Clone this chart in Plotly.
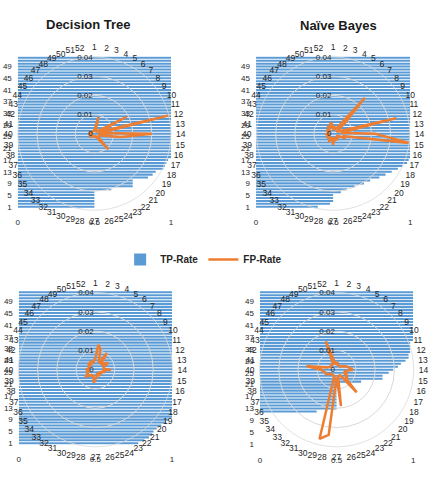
import plotly.graph_objects as go

# ---------------- data ----------------
cats = list(range(1, 53))
cat_labels = [str(c) for c in cats]
y_tick_vals = [1, 5, 9, 13, 17, 21, 25, 29, 33, 37, 41, 45, 49]
x_tick_vals = [0, 0.5, 1]
x_tick_text = ["0", "0.5", "1"]
radial_tick_vals = [0, 0.01, 0.02, 0.03, 0.04]
radial_tick_text = ["0", "0.01", "0.02", "0.03", "0.04"]
panel_titles = ["Decision Tree", "Naïve Bayes", "", ""]

# TP-Rate (bars), categories 1..52 (bottom to top)
tp_dt = [0.5, 0.5, 0.5, 0.5, 0.5, 0.5, 0.61, 0.75, 0.75, 0.75, 0.85, 0.88, 0.9, 0.95, 0.96, 0.97,
         0.98] + [1.0] * 35
tp_nb = [0.4, 0.48, 0.5, 0.5, 0.5, 0.55, 0.59, 0.64, 0.7, 0.74, 0.8, 0.84, 0.88, 0.92, 0.95, 0.98,
         0.99] + [1.0] * 35
tp_p3 = [0.78, 0.82, 0.85, 0.87, 0.88, 0.9, 0.93, 0.96, 0.98] + [1.0] * 43
tp_p4 = [0.0] * 11 + [0.37] + [0.5] * 9 + [0.66, 0.8, 0.8, 0.84, 0.87, 0.9, 0.92, 0.95, 0.97,
                                           0.97, 0.98, 0.98, 0.98, 0.98] + [1.0] * 17

# FP-Rate (radar), categories 1..52 clockwise from top
fp_dt = [0.002, 0.003, 0.009, 0.002, 0.001, 0.002, 0.001, 0.002, 0.003, 0.019,
         0.002, 0.040, 0.003, 0.030, 0.014, 0.004, 0.002, 0.003, 0.002, 0.003,
         0.011, 0.003, 0.002, 0.001, 0.002, 0.001, 0.002, 0.001, 0.002, 0.001,
         0.002, 0.001, 0.002, 0.003, 0.002, 0.003, 0.002, 0.003, 0.002, 0.003,
         0.002, 0.001, 0.002, 0.001, 0.002, 0.001, 0.002, 0.001, 0.002, 0.001,
         0.002, 0.001]
fp_nb = [0.003, 0.002, 0.004, 0.002, 0.003, 0.004, 0.025, 0.008, 0.003, 0.002,
         0.004, 0.034, 0.004, 0.022, 0.040, 0.005, 0.007, 0.002, 0.003, 0.002,
         0.004, 0.003, 0.002, 0.004, 0.003, 0.002, 0.006, 0.003, 0.004, 0.002,
         0.005, 0.002, 0.003, 0.002, 0.004, 0.002, 0.003, 0.002, 0.004, 0.003,
         0.002, 0.003, 0.002, 0.004, 0.003, 0.002, 0.003, 0.005, 0.003, 0.004,
         0.006, 0.005]
fp_p3 = [0.006, 0.013, 0.011, 0.005, 0.004, 0.0105, 0.005, 0.004, 0.006, 0.0075,
         0.004, 0.005, 0.004, 0.008, 0.004, 0.005, 0.003, 0.004, 0.003, 0.002,
         0.003, 0.004, 0.003, 0.002, 0.003, 0.004, 0.005, 0.0068, 0.004, 0.003,
         0.004, 0.003, 0.004, 0.005, 0.0065, 0.004, 0.005, 0.004, 0.003, 0.005,
         0.004, 0.003, 0.004, 0.003, 0.004, 0.005, 0.004, 0.005, 0.004, 0.005,
         0.004, 0.005]
fp_p4 = [0.003, 0.004, 0.003, 0.002, 0.003, 0.002, 0.003, 0.002, 0.003, 0.004,
         0.005, 0.006, 0.007, 0.0085, 0.005, 0.004, 0.006, 0.005, 0.007, 0.006,
         0.0157, 0.004, 0.003, 0.004, 0.003, 0.019, 0.004, 0.034, 0.037, 0.003,
         0.004, 0.003, 0.004, 0.003, 0.004, 0.005, 0.006, 0.006, 0.007, 0.008,
         0.0158, 0.005, 0.004, 0.003, 0.004, 0.003, 0.004, 0.003, 0.005, 0.0157,
         0.004, 0.003]

# ---------------- layout helpers ----------------
W, H = 432, 491
BLUE = "#5B9BD5"
ORANGE = "#ED7D31"
TXT = "#262626"
GRID = "#D9D9D9"
FONT = "Liberation Sans"


def fx(a):
    return a / W


def fy(a):
    return 1 - a / H


panels = [
    dict(tp=tp_dt, fp=fp_dt, bx=(16, 171), by=(56.7, 209.5), c=(93.5, 134.5), R=77.5, title=(88, 25)),
    dict(tp=tp_nb, fp=fp_nb, bx=(257, 413), by=(56.7, 209.5), c=(335, 134.5), R=77.5, title=(340, 26)),
    dict(tp=tp_p3, fp=fp_p3, bx=(17, 172), by=(292.6, 447.5), c=(94.5, 372), R=78, title=None),
    dict(tp=tp_p4, fp=fp_p4, bx=(261, 416), by=(292.5, 448.5), c=(338.5, 372), R=78, title=None),
]

fig = go.Figure()
layout = {}
annotations = []

for i, p in enumerate(panels):
    sfx = "" if i == 0 else str(i + 1)
    fig.add_trace(go.Bar(
        x=p["tp"], y=cats, orientation="h",
        xaxis="x" + sfx, yaxis="y" + sfx,
        marker=dict(color=BLUE, line=dict(width=0)),
        name="<b>TP-Rate</b>", legendgroup="tp", showlegend=(i == 0),
        hoverinfo="skip",
    ))
    fp = p["fp"]
    fig.add_trace(go.Scatterpolar(
        r=fp + [fp[0]], theta=cat_labels + [cat_labels[0]],
        subplot="polar" + sfx, mode="lines",
        line=dict(color=ORANGE, width=2.5),
        name="<b>FP-Rate</b>", legendgroup="fp", showlegend=(i == 0),
        hoverinfo="skip", cliponaxis=False,
    ))
    layout["xaxis" + sfx] = dict(
        domain=[fx(p["bx"][0]), fx(p["bx"][1])], range=[0, 1], anchor="y" + sfx,
        tickvals=x_tick_vals, ticktext=x_tick_text, showgrid=False, zeroline=False,
        showline=False, ticks="", ticklabelstandoff=8,
        tickfont=dict(size=8, color=TXT, family=FONT),
    )
    layout["yaxis" + sfx] = dict(
        domain=[fy(p["by"][1]), fy(p["by"][0])], range=[0.5, 52.5], anchor="x" + sfx,
        tickvals=y_tick_vals, showgrid=False, zeroline=False, showline=False,
        ticks="", ticklabelstandoff=5,
        tickfont=dict(size=8, color=TXT, family=FONT),
    )
    cx, cy = p["c"]
    R = p["R"]
    layout["polar" + sfx] = dict(
        domain=dict(x=[fx(cx - R), fx(cx + R)], y=[fy(cy + R), fy(cy - R)]),
        bgcolor="rgba(0,0,0,0)",
        radialaxis=dict(
            range=[0, 0.04], tickvals=radial_tick_vals, ticktext=radial_tick_text,
            angle=90, tickangle=90, side="counterclockwise", showline=False,
            gridcolor=GRID, gridwidth=0.8, ticks="",
            tickfont=dict(size=8, color=TXT, family=FONT),
        ),
        angularaxis=dict(
            type="category", categoryarray=cat_labels, rotation=90,
            direction="clockwise", showgrid=False, showline=True,
            linecolor=GRID, linewidth=0.8, ticks="outside", ticklen=3,
            tickcolor="rgba(0,0,0,0)",
            tickfont=dict(size=8.5, color=TXT, family=FONT),
        ),
    )
    if p["title"]:
        annotations.append(dict(
            text="<b>%s</b>" % panel_titles[i], x=fx(p["title"][0]), y=fy(p["title"][1]),
            xref="paper", yref="paper", showarrow=False, xanchor="center", yanchor="middle",
            font=dict(size=13, color="#1a1a1a", family=FONT),
        ))

fig.update_layout(
    **layout,
    width=W, height=H,
    margin=dict(l=0, r=0, t=0, b=0),
    paper_bgcolor="white", plot_bgcolor="rgba(0,0,0,0)",
    bargap=0.3,
    showlegend=True,
    legend=dict(orientation="h", x=fx(204), y=fy(261), xanchor="center", yanchor="middle",
                font=dict(size=10, color=TXT, family=FONT), bgcolor="rgba(0,0,0,0)",
                itemwidth=30, tracegroupgap=0),
    annotations=annotations,
    font=dict(family=FONT, color=TXT),
)

fig.write_html("out.html")
